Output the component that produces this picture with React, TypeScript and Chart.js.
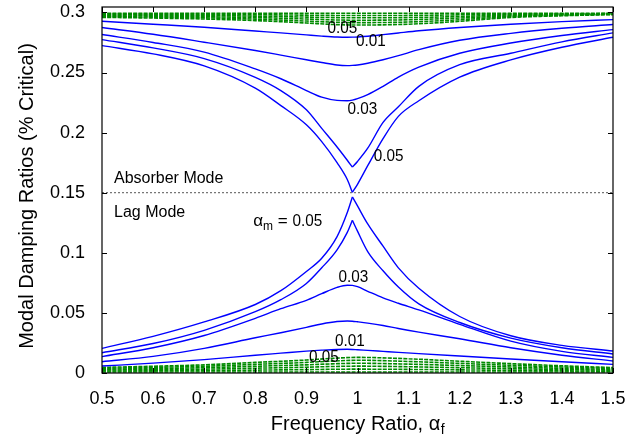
import React, { useEffect, useRef } from "react";
import { Chart, registerables } from "chart.js";

Chart.register(...registerables);

// Frequency ratio grid for the blue curves
const freq = [0.5, 0.6, 0.7, 0.8, 0.85, 0.9, 0.93, 0.96, 0.98, 0.99, 1.0, 1.02, 1.05, 1.08, 1.12, 1.2, 1.3, 1.4, 1.5];
const cuspIndex = 9;

// Absorber mode (upper) curves
const absorber1 = [0.2926, 0.2902, 0.2877, 0.2845, 0.283, 0.2813, 0.2803, 0.2795, 0.2793, 0.2794, 0.2796, 0.2802, 0.2815, 0.2829, 0.2847, 0.2875, 0.2902, 0.2923, 0.294];
const absorber2 = [0.2874, 0.2818, 0.2752, 0.2683, 0.2645, 0.2606, 0.2583, 0.2562, 0.2557, 0.2559, 0.2563, 0.2577, 0.2606, 0.264, 0.269, 0.2768, 0.2826, 0.2868, 0.2899];
const absorber3 = [0.2816, 0.275, 0.267, 0.253, 0.2448, 0.235, 0.2295, 0.2268, 0.2265, 0.227, 0.2282, 0.2316, 0.2385, 0.2462, 0.2545, 0.266, 0.2745, 0.2808, 0.2857];
const absorber4 = [0.2774, 0.2705, 0.2616, 0.246, 0.235, 0.219, 0.2035, 0.188, 0.177, 0.1713, 0.176, 0.187, 0.2085, 0.2215, 0.2385, 0.2565, 0.266, 0.2755, 0.283];
const absorber5 = [0.2724, 0.2655, 0.2555, 0.237, 0.2225, 0.2065, 0.1925, 0.175, 0.161, 0.1503, 0.157, 0.1725, 0.195, 0.2135, 0.2265, 0.2461, 0.2605, 0.271, 0.2793];

// Lag mode (lower) curves
const lag1 = [0.0058, 0.0082, 0.0111, 0.0148, 0.0165, 0.0182, 0.019, 0.0196, 0.0197, 0.0196, 0.0193, 0.0188, 0.018, 0.0172, 0.0161, 0.0141, 0.0117, 0.0094, 0.0072];
const lag2 = [0.0094, 0.0138, 0.0205, 0.0293, 0.0335, 0.038, 0.0408, 0.0428, 0.0433, 0.0431, 0.0426, 0.0415, 0.0395, 0.037, 0.034, 0.0285, 0.021, 0.0148, 0.01];
const lag3 = [0.0136, 0.021, 0.0312, 0.0455, 0.0535, 0.0605, 0.066, 0.0712, 0.073, 0.0729, 0.0718, 0.068, 0.0625, 0.058, 0.0525, 0.0405, 0.0265, 0.018, 0.013];
const lag4 = [0.0169, 0.0245, 0.0355, 0.051, 0.061, 0.0745, 0.0875, 0.1025, 0.117, 0.127, 0.118, 0.101, 0.085, 0.0715, 0.0575, 0.042, 0.029, 0.021, 0.0158];
const lag5 = [0.0205, 0.0305, 0.0425, 0.057, 0.0685, 0.0845, 0.0955, 0.1135, 0.1335, 0.1465, 0.139, 0.124, 0.1055, 0.0875, 0.0705, 0.047, 0.031, 0.023, 0.0183];

// Green dashed family near the limits
const greenFreq = [0.5, 0.6, 0.7, 0.8, 0.9, 0.95, 1.0, 1.1, 1.2, 1.3, 1.4, 1.5];
const greenTop1 = [0.2993, 0.2993, 0.2993, 0.2993, 0.2993, 0.2993, 0.2993, 0.2993, 0.2993, 0.2993, 0.2993, 0.2993];
const greenTop2 = [0.2986, 0.2985, 0.2983, 0.2981, 0.2977, 0.2975, 0.2974, 0.2975, 0.298, 0.2986, 0.2988, 0.299];
const greenTop3 = [0.2979, 0.2977, 0.2974, 0.2969, 0.2961, 0.2957, 0.2955, 0.2957, 0.2966, 0.2979, 0.2984, 0.2988];
const greenTop4 = [0.2972, 0.2969, 0.2964, 0.2957, 0.2945, 0.2938, 0.2935, 0.2939, 0.2953, 0.2972, 0.298, 0.2986];
const greenTop5 = [0.2965, 0.2961, 0.2955, 0.2944, 0.2928, 0.2919, 0.2915, 0.292, 0.2939, 0.2965, 0.2976, 0.2984];
const greenTop6 = [0.2959, 0.2953, 0.2945, 0.2932, 0.2912, 0.29, 0.2895, 0.2902, 0.2926, 0.2958, 0.2972, 0.2982];
const greenBottom1 = [0.0008, 0.0008, 0.0008, 0.0008, 0.0008, 0.0008, 0.0008, 0.0008, 0.0008, 0.0008, 0.0008, 0.0008];
const greenBottom2 = [0.0016, 0.0018, 0.002, 0.0024, 0.0028, 0.0031, 0.0032, 0.003, 0.0026, 0.0022, 0.0018, 0.0015];
const greenBottom3 = [0.0024, 0.0028, 0.0032, 0.004, 0.0048, 0.0054, 0.0057, 0.0052, 0.0044, 0.0036, 0.0029, 0.0023];
const greenBottom4 = [0.0031, 0.0037, 0.0044, 0.0056, 0.0068, 0.0076, 0.0081, 0.0074, 0.0062, 0.005, 0.0039, 0.003];
const greenBottom5 = [0.0039, 0.0047, 0.0056, 0.0072, 0.0088, 0.0099, 0.0106, 0.0096, 0.008, 0.0064, 0.005, 0.0038];
const greenBottom6 = [0.0047, 0.0056, 0.0068, 0.0088, 0.0108, 0.0122, 0.013, 0.0118, 0.0098, 0.0078, 0.006, 0.0045];

// Mode divider
const dividerX = [0.5, 1.5];
const dividerY = [0.15, 0.15];

// Ticks
const xTicks = [0.5, 0.6, 0.7, 0.8, 0.9, 1.0, 1.1, 1.2, 1.3, 1.4, 1.5];
const xTickLabels = ["0.5", "0.6", "0.7", "0.8", "0.9", "1", "1.1", "1.2", "1.3", "1.4", "1.5"];
const yTicks = [0, 0.05, 0.1, 0.15, 0.2, 0.25, 0.3];
const yTickLabels = ["0", "0.05", "0.1", "0.15", "0.2", "0.25", "0.3"];

// Curve annotations
const curveLabels = ["0.05", "0.01", "0.03", "0.05", "0.03", "0.01", "0.05"];
const curveLabelX = [0.9706, 1.0264, 1.0097, 1.0607, 0.9918, 0.9853, 0.9344];
const curveLabelY = [0.2865, 0.2757, 0.2197, 0.1805, 0.08, 0.0266, 0.0129];
const alphaLabelX = 0.796;
const alphaLabelY = 0.1262;
const modeLabels = ["Absorber Mode", "Lag Mode"];
const modeLabelX = [0.5235, 0.5235];
const modeLabelY = [0.162, 0.1337];

const FONT = "'Liberation Sans', Arial, Helvetica, sans-serif";
const NUM_SCALE = 0.9;

export default function App() {
  const ref = useRef<HTMLCanvasElement>(null);

  useEffect(() => {
    const canvas = ref.current;
    if (!canvas) return;
    const pts = (xs: number[], ys: number[]) => xs.map((x, i) => ({ x, y: ys[i] }));
    const blue = (xs: number[], ys: number[]) => ({
      data: pts(xs, ys),
      borderColor: "#0000ff",
      borderWidth: 1.4,
      pointRadius: 0,
      fill: false,
      cubicInterpolationMode: "monotone" as const,
    });
    const green = (ys: number[]) => ({
      data: pts(greenFreq, ys),
      borderColor: "#008a00",
      borderWidth: 1.6,
      borderDash: [4, 1.2],
      pointRadius: 0,
      fill: false,
      cubicInterpolationMode: "monotone" as const,
    });
    const splitLeft = (ys: number[]) => blue(freq.slice(0, cuspIndex + 1), ys.slice(0, cuspIndex + 1));
    const splitRight = (ys: number[]) => blue(freq.slice(cuspIndex), ys.slice(cuspIndex));

    const datasets: any[] = [
      blue(freq, absorber1),
      blue(freq, absorber2),
      blue(freq, absorber3),
      splitLeft(absorber4),
      splitRight(absorber4),
      splitLeft(absorber5),
      splitRight(absorber5),
      blue(freq, lag1),
      blue(freq, lag2),
      blue(freq, lag3),
      splitLeft(lag4),
      splitRight(lag4),
      splitLeft(lag5),
      splitRight(lag5),
      {
        data: pts(dividerX, dividerY),
        borderColor: "#555555",
        borderWidth: 1,
        borderDash: [2, 2],
        pointRadius: 0,
        fill: false,
      },
      green(greenTop1),
      green(greenTop2),
      green(greenTop3),
      green(greenTop4),
      green(greenTop5),
      green(greenTop6),
      green(greenBottom1),
      green(greenBottom2),
      green(greenBottom3),
      green(greenBottom4),
      green(greenBottom5),
      green(greenBottom6),
    ];

    const drawNum = (ctx: any, txt: string, x: number, y: number, size: number, align: string) => {
      ctx.save();
      ctx.font = `${size}px ${FONT}`;
      const w = ctx.measureText(txt).width * NUM_SCALE;
      const left = align === "center" ? x - w / 2 : x;
      ctx.translate(left, y);
      ctx.scale(NUM_SCALE, 1);
      ctx.textAlign = "left";
      ctx.fillText(txt, 0, 0);
      ctx.restore();
      return w;
    };

    const overlay = {
      id: "overlay",
      afterDraw(chart: any) {
        const { ctx, chartArea: a } = chart;
        const xs = chart.scales.x;
        const ys = chart.scales.y;
        ctx.save();
        // frame
        ctx.strokeStyle = "#000";
        ctx.lineWidth = 1.2;
        ctx.strokeRect(a.left, a.top, a.right - a.left, a.bottom - a.top);
        // inward ticks
        ctx.lineWidth = 1;
        ctx.beginPath();
        xTicks.forEach((t) => {
          const px = Math.round(xs.getPixelForValue(t)) + 0.5;
          ctx.moveTo(px, a.bottom);
          ctx.lineTo(px, a.bottom - 5);
          ctx.moveTo(px, a.top);
          ctx.lineTo(px, a.top + 5);
        });
        yTicks.forEach((t) => {
          const py = Math.round(ys.getPixelForValue(t)) + 0.5;
          ctx.moveTo(a.left, py);
          ctx.lineTo(a.left + 5, py);
          ctx.moveTo(a.right, py);
          ctx.lineTo(a.right - 5, py);
        });
        ctx.stroke();

        ctx.fillStyle = "#000";
        // tick labels
        ctx.font = `18px ${FONT}`;
        ctx.textAlign = "center";
        ctx.textBaseline = "middle";
        xTicks.forEach((t, i) => {
          ctx.fillText(xTickLabels[i], xs.getPixelForValue(t), a.bottom + 26);
        });
        ctx.textAlign = "right";
        yTicks.forEach((t, i) => {
          ctx.fillText(yTickLabels[i], a.left - 17, ys.getPixelForValue(t));
        });

        // axis titles
        ctx.font = `20px ${FONT}`;
        const xMain = "Frequency Ratio, α";
        const wMain = ctx.measureText(xMain).width;
        ctx.font = `14px ${FONT}`;
        const wSub = ctx.measureText("f").width;
        const cx = (a.left + a.right) / 2;
        const startX = cx - (wMain + wSub) / 2;
        ctx.textAlign = "left";
        ctx.font = `20px ${FONT}`;
        ctx.fillText(xMain, startX, 424);
        ctx.font = `14px ${FONT}`;
        ctx.fillText("f", startX + wMain + 0.5, 430);

        ctx.save();
        ctx.translate(27, 196);
        ctx.rotate(-Math.PI / 2);
        ctx.font = `20px ${FONT}`;
        ctx.textAlign = "center";
        ctx.fillText("Modal Damping Ratios (% Critical)", 0, 0);
        ctx.restore();

        // curve labels
        curveLabels.forEach((txt, i) => {
          drawNum(ctx, txt, xs.getPixelForValue(curveLabelX[i]), ys.getPixelForValue(curveLabelY[i]), 17, "center");
        });

        // alpha_m label
        {
          let px = xs.getPixelForValue(alphaLabelX);
          const py = ys.getPixelForValue(alphaLabelY);
          ctx.textAlign = "left";
          ctx.font = `17px ${FONT}`;
          ctx.fillText("α", px, py);
          px += ctx.measureText("α").width;
          ctx.font = `12px ${FONT}`;
          ctx.fillText("m", px, py + 5);
          px += ctx.measureText("m").width;
          ctx.font = `17px ${FONT}`;
          ctx.fillText(" = ", px, py);
          px += ctx.measureText(" = ").width;
          drawNum(ctx, "0.05", px, py, 17, "left");
        }

        // mode labels
        ctx.font = `16px ${FONT}`;
        ctx.textAlign = "left";
        modeLabels.forEach((txt, i) => {
          ctx.fillText(txt, xs.getPixelForValue(modeLabelX[i]), ys.getPixelForValue(modeLabelY[i]));
        });
        ctx.restore();
      },
    };

    const chart = new Chart(canvas, {
      type: "line",
      data: { datasets },
      options: {
        animation: false,
        responsive: false,
        devicePixelRatio: 1,
        layout: { padding: { left: 102, right: 14, top: 7, bottom: 69 } },
        plugins: { legend: { display: false }, tooltip: { enabled: false } },
        scales: {
          x: {
            type: "linear",
            min: 0.5,
            max: 1.5,
            grid: { display: false, drawTicks: false },
            border: { display: false },
            ticks: { display: false },
            afterBuildTicks: (s: any) => {
              s.ticks = xTicks.map((v) => ({ value: v }));
            },
          },
          y: {
            type: "linear",
            min: 0,
            max: 0.3045,
            grid: { display: false, drawTicks: false },
            border: { display: false },
            ticks: { display: false },
            afterBuildTicks: (s: any) => {
              s.ticks = yTicks.map((v) => ({ value: v }));
            },
          },
        },
      },
      plugins: [overlay],
    } as any);
    return () => chart.destroy();
  }, []);

  return (
    <canvas
      ref={ref}
      width={627}
      height={442}
      style={{ position: "fixed", left: 0, top: 0, width: 627, height: 442 }}
    />
  );
}
